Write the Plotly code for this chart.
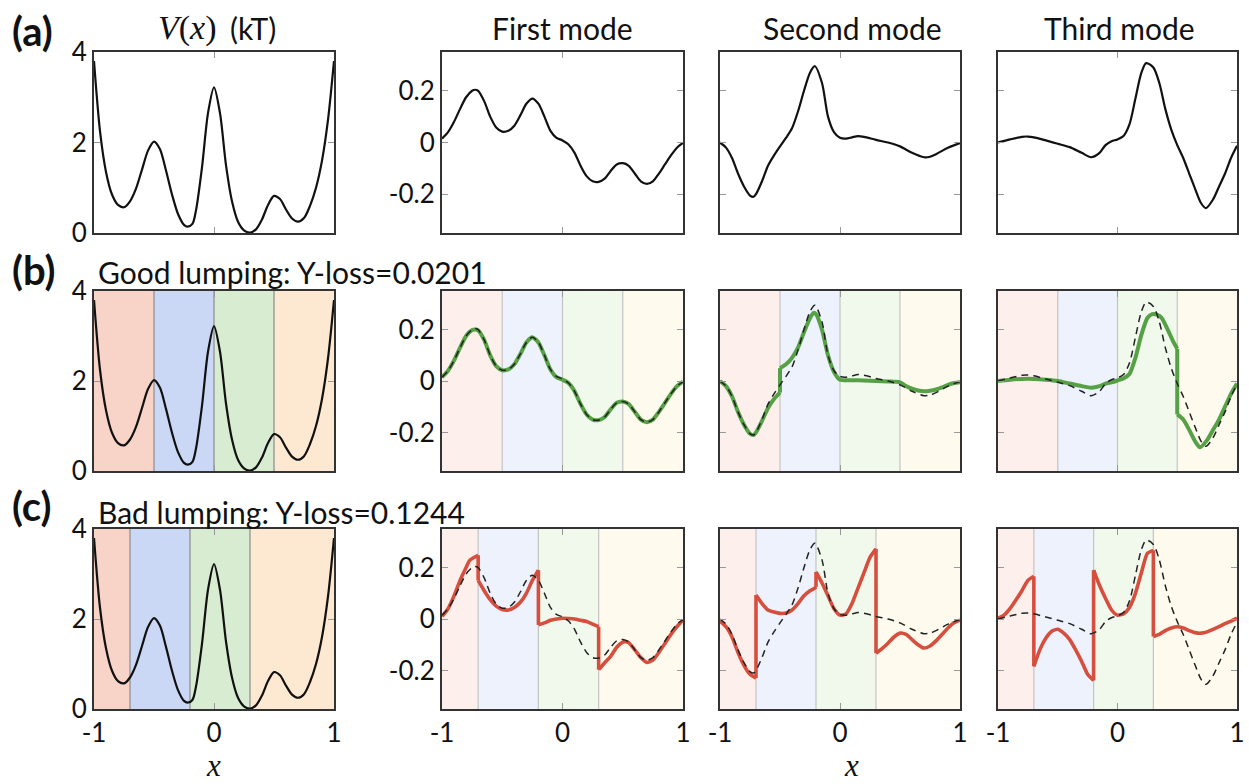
import plotly.graph_objects as go

# ---------------- data ----------------
x_v = [-1, -0.95, -0.9, -0.85, -0.8, -0.75, -0.7, -0.65, -0.6, -0.55, -0.5, -0.45, -0.4, -0.35,
       -0.3, -0.25, -0.22, -0.18, -0.15, -0.1, -0.05, 0, 0.05, 0.1, 0.15, 0.2, 0.25, 0.3, 0.35,
       0.4, 0.45, 0.5, 0.55, 0.6, 0.65, 0.7, 0.75, 0.8, 0.85, 0.9, 0.95, 1.0]
v_x = [3.8, 2.25, 1.35, 0.85, 0.62, 0.57, 0.7, 0.98, 1.4, 1.82, 2.02, 1.85, 1.38, 0.85,
       0.42, 0.18, 0.14, 0.2, 0.5, 1.45, 2.65, 3.22, 2.65, 1.5, 0.7, 0.25, 0.06, 0.01, 0.08,
       0.3, 0.62, 0.82, 0.75, 0.52, 0.32, 0.25, 0.33, 0.6, 1.0, 1.6, 2.5, 3.8]

x_m1 = [-1, -0.95, -0.9, -0.85, -0.8, -0.75, -0.725, -0.7, -0.65, -0.6, -0.55, -0.5, -0.45, -0.4,
        -0.35, -0.3, -0.25, -0.2, -0.15, -0.1, -0.05, 0, 0.05, 0.1, 0.15, 0.2, 0.25, 0.3, 0.35,
        0.4, 0.45, 0.5, 0.55, 0.6, 0.65, 0.7, 0.75, 0.8, 0.85, 0.9, 0.95, 1.0]
mode1 = [0.015, 0.04, 0.08, 0.13, 0.175, 0.2, 0.204, 0.2, 0.16, 0.1, 0.058, 0.042, 0.045, 0.065,
         0.105, 0.15, 0.17, 0.15, 0.1, 0.045, 0.018, 0.008, -0.008, -0.04, -0.09, -0.13, -0.15, -0.152, -0.14,
         -0.11, -0.085, -0.08, -0.09, -0.12, -0.15, -0.16, -0.15, -0.12, -0.085, -0.05, -0.02, -0.002]

x_m2 = [-1, -0.95, -0.9, -0.85, -0.8, -0.75, -0.72, -0.7, -0.65, -0.6, -0.55, -0.5, -0.45, -0.4,
        -0.35, -0.3, -0.25, -0.21, -0.15, -0.1, -0.05, 0, 0.05, 0.1, 0.15, 0.2, 0.3, 0.4, 0.5,
        0.6, 0.7, 0.75, 0.8, 0.9, 1.0]
mode2 = [0.0, -0.02, -0.06, -0.12, -0.17, -0.205, -0.21, -0.2, -0.15, -0.09, -0.05, -0.015, 0.018, 0.055,
         0.12, 0.2, 0.27, 0.295, 0.23, 0.1, 0.04, 0.018, 0.015, 0.02, 0.025, 0.022, 0.01, 0.0, -0.015,
         -0.04, -0.057, -0.055, -0.045, -0.02, -0.002]

x_m3 = [-1, -0.9, -0.8, -0.75, -0.7, -0.6, -0.5, -0.4, -0.3, -0.22, -0.15, -0.1, -0.05, 0.0, 0.05,
        0.1, 0.15, 0.2, 0.24, 0.3, 0.35, 0.4, 0.45, 0.5, 0.55, 0.6, 0.65, 0.7, 0.74, 0.8, 0.85,
        0.9, 0.95, 1.0]
mode3 = [0.0, 0.012, 0.022, 0.023, 0.02, 0.008, -0.005, -0.018, -0.04, -0.057, -0.04, -0.01, 0.005, 0.012, 0.025,
         0.07, 0.17, 0.27, 0.307, 0.29, 0.23, 0.13, 0.05, -0.01, -0.06, -0.12, -0.18, -0.235, -0.254, -0.22, -0.17,
         -0.12, -0.06, -0.013]

# lumping boundaries
good_bounds = [-0.5, 0.0, 0.5]
bad_bounds = [-0.7, -0.2, 0.3]

# good lumping: lumped modes (repeated x = jump at a boundary)
x_g1 = x_m1
good1 = [0.015, 0.04, 0.08, 0.13, 0.175, 0.198, 0.2, 0.197, 0.16, 0.1, 0.058, 0.042, 0.045, 0.065,
         0.105, 0.15, 0.17, 0.15, 0.1, 0.045, 0.015, 0.005, -0.008, -0.04, -0.09, -0.13, -0.15, -0.152, -0.14,
         -0.11, -0.085, -0.08, -0.09, -0.12, -0.15, -0.16, -0.15, -0.12, -0.085, -0.05, -0.02, -0.002]
x_g2 = [-1, -0.95, -0.9, -0.85, -0.8, -0.75, -0.72, -0.7, -0.65, -0.6, -0.55, -0.5, -0.5, -0.45, -0.4,
        -0.35, -0.3, -0.25, -0.22, -0.2, -0.15, -0.1, -0.05, 0, 0.1, 0.2, 0.3, 0.4, 0.5, 0.55, 0.6,
        0.65, 0.7, 0.75, 0.8, 0.85, 0.9, 0.95, 1.0]
good2 = [0.0, -0.02, -0.06, -0.12, -0.17, -0.205, -0.21, -0.2, -0.155, -0.105, -0.07, -0.045, 0.05, 0.065, 0.09,
         0.13, 0.19, 0.245, 0.265, 0.26, 0.2, 0.1, 0.035, 0.005, 0.003, 0.002, 0.0, -0.002, -0.005, -0.02, -0.03,
         -0.037, -0.04, -0.038, -0.033, -0.025, -0.015, -0.008, -0.005]
x_g3 = [-1, -0.9, -0.8, -0.7, -0.6, -0.5, -0.4, -0.3, -0.22, -0.15, -0.1, -0.05, 0, 0.05, 0.1,
        0.15, 0.2, 0.25, 0.29, 0.33, 0.37, 0.42, 0.47, 0.5, 0.5, 0.55, 0.6, 0.65, 0.69, 0.75, 0.8,
        0.85, 0.9, 0.95, 1.0]
good3 = [0.0, 0.005, 0.008, 0.008, 0.005, 0.0, -0.01, -0.02, -0.026, -0.02, -0.01, -0.005, 0.002, 0.01, 0.027,
         0.09, 0.18, 0.245, 0.26, 0.258, 0.245, 0.2, 0.15, 0.125, -0.13, -0.15, -0.19, -0.235, -0.258, -0.23, -0.19,
         -0.15, -0.1, -0.05, -0.01]

# bad lumping: lumped modes
x_b1 = [-1, -0.95, -0.9, -0.85, -0.8, -0.77, -0.7, -0.7, -0.65, -0.6, -0.55, -0.5, -0.45, -0.4, -0.35,
        -0.3, -0.25, -0.2, -0.2, -0.15, -0.1, -0.05, 0, 0.05, 0.1, 0.15, 0.2, 0.25, 0.3, 0.3, 0.35,
        0.4, 0.45, 0.5, 0.52, 0.55, 0.6, 0.65, 0.7, 0.75, 0.8, 0.85, 0.9, 0.95, 1.0]
bad1 = [0.01, 0.04, 0.09, 0.15, 0.2, 0.228, 0.248, 0.15, 0.11, 0.075, 0.05, 0.037, 0.035, 0.045, 0.065,
        0.1, 0.15, 0.19, -0.023, -0.015, -0.005, 0.0, 0.003, 0.002, 0.0, -0.005, -0.01, -0.02, -0.03, -0.197, -0.17,
        -0.145, -0.11, -0.09, -0.088, -0.092, -0.12, -0.15, -0.169, -0.16, -0.13, -0.095, -0.06, -0.03, -0.004]
x_b2 = [-1, -0.95, -0.9, -0.85, -0.8, -0.75, -0.7, -0.7, -0.65, -0.6, -0.55, -0.5, -0.45, -0.4, -0.35,
        -0.3, -0.25, -0.21, -0.2, -0.2, -0.15, -0.1, -0.05, 0, 0.05, 0.1, 0.15, 0.2, 0.25, 0.3, 0.3,
        0.35, 0.4, 0.45, 0.5, 0.55, 0.6, 0.65, 0.7, 0.75, 0.8, 0.85, 0.9, 0.95, 1.0]
bad2 = [-0.008, -0.03, -0.07, -0.13, -0.18, -0.215, -0.23, 0.093, 0.06, 0.035, 0.027, 0.022, 0.023, 0.035, 0.06,
        0.09, 0.11, 0.12, 0.125, 0.183, 0.14, 0.09, 0.04, 0.015, 0.02, 0.06, 0.12, 0.18, 0.24, 0.273, -0.133,
        -0.115, -0.094, -0.07, -0.055, -0.06, -0.08, -0.1, -0.113, -0.105, -0.085, -0.06, -0.035, -0.015, -0.004]
x_b3 = [-1, -0.95, -0.9, -0.85, -0.8, -0.75, -0.7, -0.7, -0.65, -0.6, -0.55, -0.5, -0.45, -0.4, -0.35,
        -0.3, -0.25, -0.2, -0.2, -0.15, -0.1, -0.05, 0, 0.05, 0.1, 0.15, 0.2, 0.25, 0.3, 0.3, 0.35,
        0.4, 0.45, 0.5, 0.55, 0.6, 0.65, 0.7, 0.75, 0.8, 0.85, 0.9, 0.95, 1.0]
bad3 = [0.003, 0.015, 0.04, 0.074, 0.11, 0.15, 0.166, -0.184, -0.12, -0.075, -0.048, -0.04, -0.055, -0.08, -0.12,
        -0.165, -0.215, -0.239, 0.19, 0.13, 0.08, 0.035, 0.015, 0.02, 0.045, 0.1, 0.18, 0.255, 0.267, -0.068, -0.06,
        -0.045, -0.035, -0.03, -0.035, -0.045, -0.053, -0.055, -0.05, -0.04, -0.03, -0.018, -0.008, 0.003]

x_ticks = [-1, 0, 1]
x_ticktext = ["-1", "0", "1"]
v_ticks = [0, 2, 4]
v_ticktext = ["0", "2", "4"]
m_ticks = [-0.2, 0, 0.2]
m_ticktext = ["-0.2", "0", "0.2"]

col_titles = ["First mode", "Second mode", "Third mode"]
row_labels = ["(a)", "(b)", "(c)"]
row_texts = ["", "Good lumping: Y-loss=0.0201", "Bad lumping: Y-loss=0.1244"]

# ---------------- styling ----------------
W, H = 1249, 784
col_px = [(94, 334), (442, 683), (720, 960), (998, 1237)]
row_px = [(52, 233), (291, 471), (529, 709)]
strong_fill = ["#f7d3c8", "#cad8f6", "#d8ecd2", "#fde8d1"]
light_fill = ["#fdf0ec", "#edf2fd", "#f1f9ec", "#fefbee"]
FONT = "Lato"
GREEN = "#56a046"
RED = "#d64f3e"

fig = go.Figure()


def ax_id(r, c):
    return r * 4 + c + 1


def split_jumps(xs, ys):
    sx, sy, jx, jy = [], [], [], []
    for i in range(len(xs)):
        if i > 0 and xs[i] == xs[i - 1]:
            sx.append(None)
            sy.append(None)
            jx += [xs[i - 1], xs[i], None]
            jy += [ys[i - 1], ys[i], None]
        sx.append(xs[i])
        sy.append(ys[i])
    return sx, sy, jx, jy


def refs(r, c):
    k = ax_id(r, c)
    s = "" if k == 1 else str(k)
    return "x" + s, "y" + s


def add_line(r, c, xs, ys, color, width, dash=None):
    xr, yr = refs(r, c)
    fig.add_trace(go.Scatter(x=xs, y=ys, mode="lines", xaxis=xr, yaxis=yr,
                             line=dict(color=color, width=width, shape="spline", smoothing=0.8,
                                       dash=dash),
                             connectgaps=False, showlegend=False, hoverinfo="skip"))


def add_lumped(r, c, xs, ys, color, width):
    sx, sy, jx, jy = split_jumps(xs, ys)
    xr, yr = refs(r, c)
    fig.add_trace(go.Scatter(x=jx, y=jy, mode="lines", xaxis=xr, yaxis=yr,
                             line=dict(color=color, width=width), connectgaps=False,
                             showlegend=False, hoverinfo="skip"))
    fig.add_trace(go.Scatter(x=sx, y=sy, mode="lines", xaxis=xr, yaxis=yr,
                             line=dict(color=color, width=width, shape="spline", smoothing=0.6),
                             connectgaps=False, showlegend=False, hoverinfo="skip"))


modes_x = [x_m1, x_m2, x_m3]
modes_y = [mode1, mode2, mode3]
good_x = [x_g1, x_g2, x_g3]
good_y = [good1, good2, good3]
bad_x = [x_b1, x_b2, x_b3]
bad_y = [bad1, bad2, bad3]

shapes = []
for r in range(3):
    bounds = [None, good_bounds, bad_bounds][r]
    for c in range(4):
        xr, yr = refs(r, c)
        if bounds is not None:
            edges = [-1] + bounds + [1]
            fills = strong_fill if c == 0 else light_fill
            for i in range(4):
                shapes.append(dict(type="rect", xref=xr, yref=yr + " domain", x0=edges[i], x1=edges[i + 1],
                                   y0=0, y1=1, fillcolor=fills[i], line=dict(width=0), layer="below"))
            for b in bounds:
                shapes.append(dict(type="line", xref=xr, yref=yr + " domain", x0=b, x1=b, y0=0, y1=1,
                                   line=dict(color="#8c8c8c" if c == 0 else "#c4c4c4", width=1.2),
                                   layer="below"))
        if c == 0:
            add_line(r, c, x_v, v_x, "#111111", 2.2)
        else:
            if r == 0:
                add_line(r, c, modes_x[c - 1], modes_y[c - 1], "#111111", 2.2)
            else:
                lx = good_x if r == 1 else bad_x
                ly = good_y if r == 1 else bad_y
                add_lumped(r, c, lx[c - 1], ly[c - 1], GREEN if r == 1 else RED, 4 if r == 1 else 3.6)
                add_line(r, c, modes_x[c - 1], modes_y[c - 1], "#222222", 1.5, dash="7px,5px")

layout = dict(width=W, height=H, margin=dict(l=0, r=0, t=0, b=0, pad=0, autoexpand=False),
              paper_bgcolor="white", plot_bgcolor="white", showlegend=False,
              shapes=shapes, font=dict(family=FONT, color="#111111"))

for r in range(3):
    for c in range(4):
        k = ax_id(r, c)
        s = "" if k == 1 else str(k)
        xd = [col_px[c][0] / W, col_px[c][1] / W]
        yd = [1 - row_px[r][1] / H, 1 - row_px[r][0] / H]
        common = dict(showline=True, mirror="ticks", linecolor="#333333", linewidth=2,
                      ticks="inside", ticklen=6, tickwidth=1, tickcolor="#999999",
                      showgrid=False, zeroline=False, fixedrange=True, automargin=False,
                      tickfont=dict(family=FONT, size=26, color="#111111"))
        layout["xaxis" + s] = dict(domain=xd, anchor="y" + s, range=[-1, 1],
                                   tickvals=x_ticks, ticktext=x_ticktext,
                                   showticklabels=(r == 2), **common)
        if c == 0:
            yax = dict(range=[0, 4], tickvals=v_ticks, ticktext=v_ticktext, showticklabels=True)
        else:
            yax = dict(range=[-0.35, 0.35], tickvals=m_ticks, ticktext=m_ticktext,
                       showticklabels=(c == 1))
        layout["yaxis" + s] = dict(domain=yd, anchor="x" + s, **yax, **common)

fig.update_layout(**layout)


def ann(text, xpx, ypx, size, family=FONT, xanchor="center", color="#111111"):
    fig.add_annotation(text=text, x=xpx / W, y=1 - ypx / H, xref="paper", yref="paper",
                       xanchor=xanchor, yanchor="middle", showarrow=False,
                       font=dict(family=family, size=size, color=color))


# panel labels
ann("<b>(a)</b>", 10, 31, 40, xanchor="left")
ann("<b>(b)</b>", 10, 270, 40, xanchor="left")
ann("<b>(c)</b>", 10, 506, 40, xanchor="left")
# column titles
ann("<i>V</i>(<i>x</i>)", 187, 28, 34, family="Liberation Serif")
ann("(kT)", 253, 28, 30)
ann(col_titles[0], 562, 28, 30)
ann(col_titles[1], 852, 28, 30)
ann(col_titles[2], 1119, 28, 30)
# row texts
ann(row_texts[1], 96, 272, 30, xanchor="left")
ann(row_texts[2], 96, 512, 30, xanchor="left")
# x labels
ann("<i>x</i>", 213, 765, 31, family="Liberation Serif")
ann("<i>x</i>", 851, 765, 31, family="Liberation Serif")

fig.write_html("out.html", config={"displayModeBar": False},
               post_script="document.body.style.margin='0';document.body.style.overflow='hidden';")
